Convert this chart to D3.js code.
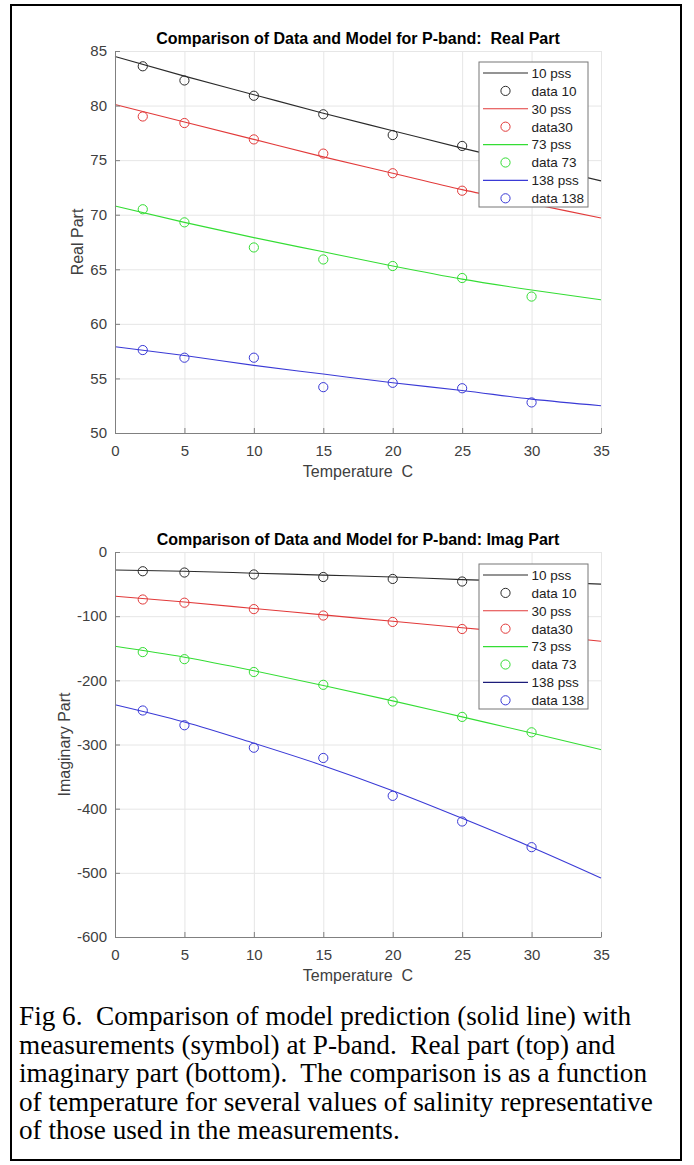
<!DOCTYPE html>
<html>
<head>
<meta charset="utf-8">
<script src="https://cdn.jsdelivr.net/npm/d3@7"></script>
<style>
  body { margin: 0; background: #fff; }
  svg text { font-family: "Liberation Sans", Arial, sans-serif; white-space: pre; }
</style>
</head>
<body>
<div id="chart"></div>
<script>
// model grid and measurement temperatures
let modelTemps = [0, 5, 10, 15, 20, 25, 30, 35]
let dataTemps = [2, 5, 10, 15, 20, 25, 30]

// real part
let realModel10 = [84.5, 82.7, 81.0, 79.3, 77.7, 76.1, 74.6, 73.1]
let realModel30 = [80.1, 78.5, 76.9, 75.3, 73.8, 72.3, 71.0, 69.7]
let realModel73 = [70.8, 69.3, 67.9, 66.6, 65.3, 64.1, 63.1, 62.2]
let realModel138 = [57.9, 57.1, 56.2, 55.4, 54.6, 53.9, 53.1, 52.5]
let realData10 = [83.6, 82.3, 80.9, 79.2, 77.3, 76.3, null]
let realData30 = [79.0, 78.4, 76.9, 75.6, 73.8, 72.2, null]
let realData73 = [70.5, 69.3, 67.0, 65.9, 65.3, 64.2, 62.5]
let realData138 = [57.6, 56.9, 56.9, 54.2, 54.6, 54.1, 52.8]

// imaginary part
let imagModel10 = [-28, -30, -33, -36, -39, -43, -46, -50]
let imagModel30 = [-69, -78, -88, -98, -108, -118, -128, -139]
let imagModel73 = [-147, -164, -185, -208, -232, -257, -282, -308]
let imagModel138 = [-238, -265, -298, -333, -372, -415, -460, -508]
let imagData10 = [-30, -32, -35, -39, -42, -46, null]
let imagData30 = [-74, -79, -89, -99, -109, -120, null]
let imagData73 = [-156, -167, -187, -207, -233, -257, -281]
let imagData138 = [-247, -270, -305, -321, -380, -420, -460]

let legendLabels = ['10 pss', 'data 10', '30 pss', 'data30', '73 pss', 'data 73', '138 pss', 'data 138']
let seriesColors = ['#2b2b2b', '#e23a3a', '#34dd34', '#3a3ad6']

let captionLines = [
  'Fig 6.  Comparison of model prediction (solid line) with',
  'measurements (symbol) at P-band.  Real part (top) and',
  'imaginary part (bottom).  The comparison is as a function',
  'of temperature for several values of salinity representative',
  'of those used in the measurements.'
]

let width = 694
let height = 1165

let svg = d3
  .select('#chart')
  .append('svg')
  .attr('width', width)
  .attr('height', height)

svg
  .append('rect')
  .attr('x', 11)
  .attr('y', 5)
  .attr('width', 670)
  .attr('height', 1155)
  .attr('fill', 'none')
  .attr('stroke', '#000')
  .attr('stroke-width', 2)

function drawPanel(opts) {
  let x = d3.scaleLinear().domain([0, 35]).range([115, 601])
  let y = d3.scaleLinear().domain(opts.domain).range([opts.bottom, opts.top])

  let g = svg.append('g')

  // grid
  g.append('g')
    .attr('transform', `translate(0,${opts.bottom})`)
    .call(d3.axisBottom(x).ticks(7).tickSize(-(opts.bottom - opts.top)).tickFormat(''))
    .call(s => s.select('.domain').remove())
    .selectAll('line')
    .attr('stroke', '#e6e6e6')

  g.append('g')
    .attr('transform', 'translate(115,0)')
    .call(d3.axisLeft(y).tickValues(opts.ticks).tickSize(-486).tickFormat(''))
    .call(s => s.select('.domain').remove())
    .selectAll('line')
    .attr('stroke', '#e6e6e6')

  // model lines
  let line = d3
    .line()
    .x((d, i) => x(modelTemps[i]))
    .y(d => y(d))
    .curve(d3.curveMonotoneX)

  opts.models.forEach((m, i) => {
    g.append('path')
      .datum(m)
      .attr('d', line)
      .attr('fill', 'none')
      .attr('stroke', seriesColors[i])
      .attr('stroke-width', 1.1)
  })

  // measurements
  opts.data.forEach((arr, i) => {
    g.selectAll(null)
      .data(arr.map((v, j) => [dataTemps[j], v]).filter(d => d[1] !== null))
      .enter()
      .append('circle')
      .attr('cx', d => x(d[0]))
      .attr('cy', d => y(d[1]))
      .attr('r', 4.6)
      .attr('fill', 'none')
      .attr('stroke', seriesColors[i])
      .attr('stroke-width', 1)
  })

  // axes (plain hyphen for negatives, like the original)
  let xAxis = g
    .append('g')
    .attr('transform', `translate(0,${opts.bottom})`)
    .call(d3.axisBottom(x).ticks(7).tickSizeInner(-5).tickSizeOuter(0).tickPadding(12).tickFormat(d => String(d)))
  let yAxis = g
    .append('g')
    .attr('transform', 'translate(115,0)')
    .call(d3.axisLeft(y).tickValues(opts.ticks).tickSizeInner(-5).tickSizeOuter(0).tickPadding(8).tickFormat(d => String(d)))

  ;[xAxis, yAxis].forEach(a => {
    a.select('.domain').attr('stroke', '#808080')
    a.selectAll('.tick line').attr('stroke', '#808080')
    a.selectAll('text')
      .attr('fill', '#404040')
      .style('font-size', '15px')
      .style('font-family', '"Liberation Sans", Arial, sans-serif')
  })

  // title and labels
  g.append('text')
    .attr('x', 358)
    .attr('y', opts.top - 7)
    .attr('text-anchor', 'middle')
    .attr('font-weight', 'bold')
    .attr('font-size', 16)
    .attr('fill', '#000')
    .text(opts.title)

  g.append('text')
    .attr('x', 358)
    .attr('y', opts.bottom + 44)
    .attr('text-anchor', 'middle')
    .attr('font-size', 16)
    .attr('fill', '#404040')
    .text('Temperature  C')

  g.append('text')
    .attr('transform', `translate(${opts.ylabelX},${(opts.top + opts.bottom) / 2}) rotate(-90)`)
    .attr('text-anchor', 'middle')
    .attr('font-size', 16)
    .attr('fill', '#404040')
    .text(opts.ylabel)

  // legend
  let legend = g.append('g').attr('transform', `translate(479,${opts.legendTop})`)
  legend
    .append('rect')
    .attr('width', 109)
    .attr('height', 145)
    .attr('fill', '#fff')
    .attr('stroke', '#777')
    .attr('stroke-width', 1)

  legend
    .selectAll('.legend-entry')
    .data(legendLabels)
    .enter()
    .append('g')
    .attr('class', 'legend-entry')
    .attr('transform', (d, i) => `translate(0,${11 + i * 17.9})`)
    .each(function(d, i) {
      let e = d3.select(this)
      let c = Math.floor(i / 2)
      if (i % 2 === 0) {
        e.append('line')
          .attr('x1', 4)
          .attr('x2', 49)
          .attr('stroke', opts.legendLineColors[c])
          .attr('stroke-width', 1.1)
      } else {
        e.append('circle')
          .attr('cx', 26.5)
          .attr('r', 4.6)
          .attr('fill', 'none')
          .attr('stroke', seriesColors[c])
      }
      e.append('text')
        .attr('x', 52.5)
        .attr('dy', '0.36em')
        .attr('font-size', 13.5)
        .attr('fill', '#222')
        .text(d)
    })
}

drawPanel({
  domain: [50, 85],
  ticks: [50, 55, 60, 65, 70, 75, 80, 85],
  top: 51,
  bottom: 433,
  title: 'Comparison of Data and Model for P-band:  Real Part',
  ylabel: 'Real Part',
  ylabelX: 83,
  legendTop: 62,
  models: [realModel10, realModel30, realModel73, realModel138],
  data: [realData10, realData30, realData73, realData138],
  legendLineColors: seriesColors
})

drawPanel({
  domain: [-600, 0],
  ticks: [-600, -500, -400, -300, -200, -100, 0],
  top: 552,
  bottom: 937,
  title: 'Comparison of Data and Model for P-band: Imag Part',
  ylabel: 'Imaginary Part',
  ylabelX: 70,
  legendTop: 564,
  models: [imagModel10, imagModel30, imagModel73, imagModel138],
  data: [imagData10, imagData30, imagData73, imagData138],
  legendLineColors: [seriesColors[0], seriesColors[1], seriesColors[2], '#1c1c7a']
})

// caption, sized so the widest line fits the box like the original
let caption = svg
  .append('g')
  .selectAll('text')
  .data(captionLines)
  .enter()
  .append('text')
  .attr('x', 19)
  .attr('y', (d, i) => 1025 + i * 28.6)
  .attr('font-size', 24)
  .attr('fill', '#000')
  .style('font-family', '"Liberation Serif", "Times New Roman", serif')
  .text(d => d)

let widest = d3.max(caption.nodes(), n => n.getComputedTextLength())
caption.attr('font-size', 24 * 634 / widest)
</script>
</body>
</html>
